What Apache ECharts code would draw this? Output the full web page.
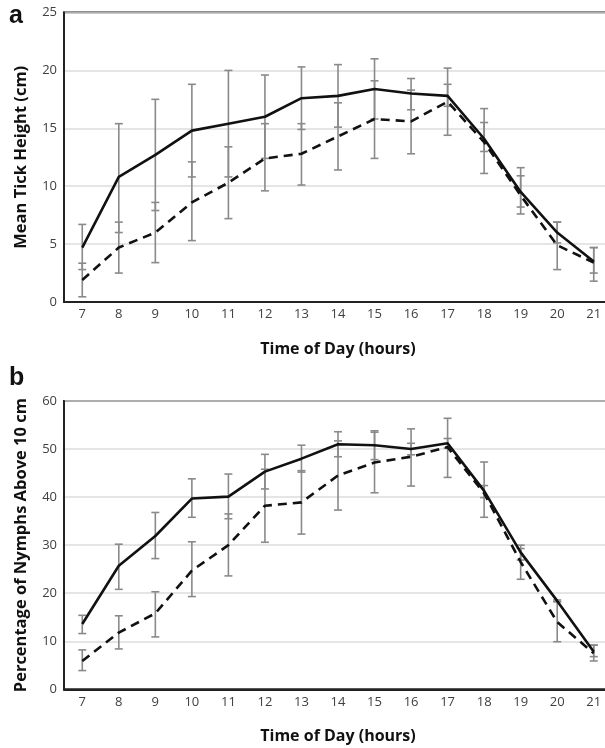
<!DOCTYPE html>
<html>
<head>
<meta charset="utf-8">
<title>Tick height by time of day</title>
<script src="https://cdn.jsdelivr.net/npm/echarts@6/dist/echarts.min.js"></script>
<style>
  html, body { margin: 0; padding: 0; background: #fff; }
  #main { width: 605px; height: 748px; }
</style>
</head>
<body>
<div id="main"></div>
<script type="text/javascript">
// hours on the x axis
var hours = ['7', '8', '9', '10', '11', '12', '13', '14', '15', '16', '17', '18', '19', '20', '21'];

// panel a - mean tick height (cm)
var heightSolid    = [4.7, 10.8, 12.7, 14.8, 15.4, 16.0, 17.6, 17.8, 18.4, 18.0, 17.8, 14.1, 9.5, 6.0, 3.5];
var heightSolidHi  = [6.7, 15.4, 17.5, 18.8, 20.0, 19.6, 20.3, 20.5, 21.0, 19.3, 18.8, 16.7, 11.6, 6.9, 4.7];
var heightSolidLo  = [2.8, 6.0, 7.9, 10.8, 10.8, 12.4, 14.9, 15.1, 15.8, 16.6, 16.9, 11.1, 7.6, 5.1, 2.5];
var heightDashed   = [1.9, 4.7, 6.0, 8.6, 10.3, 12.4, 12.8, 14.3, 15.8, 15.6, 17.3, 13.8, 9.2, 4.9, 3.4];
var heightDashedHi = [3.35, 6.9, 8.6, 12.1, 13.4, 15.4, 15.4, 17.2, 19.1, 18.3, 20.2, 15.5, 10.9, 6.9, 4.7];
var heightDashedLo = [0.45, 2.5, 3.4, 5.3, 7.2, 9.6, 10.1, 11.4, 12.4, 12.8, 14.4, 13.0, 8.2, 2.8, 1.8];

// panel b - percentage of nymphs above 10 cm
var pctSolid    = [13.6, 25.7, 31.9, 39.7, 40.1, 45.3, 48.0, 51.0, 50.8, 50.0, 51.2, 41.3, 28.5, 18.4, 7.8];
var pctSolidHi  = [15.4, 30.2, 36.8, 43.8, 44.8, 48.9, 50.8, 53.6, 53.8, 51.2, 52.2, 47.3, 30.0, 18.6, 9.2];
var pctSolidLo  = [11.6, 20.8, 27.2, 35.8, 35.5, 41.7, 45.2, 48.4, 47.8, 48.8, 50.2, 35.8, 26.9, 18.2, 6.8];
var pctDashed   = [5.9, 11.8, 15.8, 24.7, 30.0, 38.2, 38.9, 44.5, 47.2, 48.4, 50.4, 40.8, 26.5, 14.0, 7.5];
var pctDashedHi = [8.2, 15.3, 20.3, 30.7, 36.5, 45.8, 45.5, 51.7, 53.5, 54.2, 56.4, 42.4, 29.3, 18.3, 9.2];
var pctDashedLo = [3.9, 8.4, 10.9, 19.3, 23.6, 30.6, 32.3, 37.3, 40.9, 42.3, 44.1, 39.9, 22.9, 9.9, 5.9];

var FONT = '"Open Sans", "Liberation Sans", sans-serif';

function barData(lo, hi) {
    var out = [];
    for (var i = 0; i < hours.length; i++) {
        out.push([i, lo[i], hi[i]]);
    }
    return out;
}

// error bar with small caps
function renderBar(params, api) {
    var x = api.value(0);
    var lo = api.coord([x, api.value(1)]);
    var hi = api.coord([x, api.value(2)]);
    var w = 4;
    var st = { stroke: '#8a8a8a', lineWidth: 1.6 };
    return {
        type: 'group',
        children: [
            { type: 'line', shape: { x1: hi[0], y1: hi[1], x2: lo[0], y2: lo[1] }, style: st },
            { type: 'line', shape: { x1: hi[0] - w, y1: hi[1], x2: hi[0] + w, y2: hi[1] }, style: st },
            { type: 'line', shape: { x1: lo[0] - w, y1: lo[1], x2: lo[0] + w, y2: lo[1] }, style: st }
        ]
    };
}

function xAxisOf(idx) {
    return {
        type: 'category',
        gridIndex: idx,
        data: hours,
        name: 'Time of Day (hours)',
        nameLocation: 'middle',
        nameGap: 39,
        nameTextStyle: { fontFamily: FONT, fontWeight: 'bold', fontSize: 16, color: '#111' },
        axisLine: { lineStyle: { color: '#222', width: 2 } },
        axisTick: { show: false },
        axisLabel: { fontFamily: FONT, fontSize: 13, color: '#404040', margin: 6 }
    };
}

function yAxisOf(idx, max, interval, name) {
    return {
        type: 'value',
        gridIndex: idx,
        min: 0,
        max: max,
        interval: interval,
        name: name,
        nameLocation: 'middle',
        nameGap: 34,
        nameTextStyle: { fontFamily: FONT, fontWeight: 'bold', fontSize: 16.5, color: '#111' },
        axisLine: { show: true, lineStyle: { color: '#222', width: 2 } },
        axisTick: { show: false },
        axisLabel: { fontFamily: FONT, fontSize: 13, color: '#404040', margin: 7 },
        splitLine: { lineStyle: { color: '#dcdcdc', width: 1.5 } }
    };
}

function lineOf(idx, values, dashed) {
    return {
        type: 'line',
        xAxisIndex: idx,
        yAxisIndex: idx,
        data: values,
        symbol: 'none',
        z: 5,
        lineStyle: { color: '#111', width: 2.6, type: dashed ? [9, 6] : 'solid' }
    };
}

function barsOf(idx, lo, hi) {
    return {
        type: 'custom',
        xAxisIndex: idx,
        yAxisIndex: idx,
        renderItem: renderBar,
        encode: { x: 0, y: [1, 2] },
        data: barData(lo, hi),
        z: 3
    };
}

var myChart = echarts.init(document.getElementById('main'));

var option = {
    animation: false,
    backgroundColor: '#fff',
    graphic: [
        { type: 'text', left: 9, top: 4, style: { text: 'a', font: 'bold 25px "Liberation Sans", sans-serif', fill: '#111' } },
        { type: 'text', left: 9, top: 366, style: { text: 'b', font: 'bold 25px "Liberation Sans", sans-serif', fill: '#111' } }
    ],
    grid: [
        { left: 64, top: 12.5, width: 548, height: 289.5, show: true, borderColor: '#222', borderWidth: 2, outerBoundsMode: 'none' },
        { left: 64, top: 401, width: 548, height: 288.3, show: true, borderColor: '#222', borderWidth: 2, outerBoundsMode: 'none' }
    ],
    xAxis: [xAxisOf(0), xAxisOf(1)],
    yAxis: [
        yAxisOf(0, 25, 5, 'Mean Tick Height (cm)'),
        yAxisOf(1, 60, 10, 'Percentage of Nymphs Above 10 cm')
    ],
    series: [
        barsOf(0, heightSolidLo, heightSolidHi),
        barsOf(0, heightDashedLo, heightDashedHi),
        lineOf(0, heightSolid, false),
        lineOf(0, heightDashed, true),
        barsOf(1, pctSolidLo, pctSolidHi),
        barsOf(1, pctDashedLo, pctDashedHi),
        lineOf(1, pctSolid, false),
        lineOf(1, pctDashed, true)
    ]
};

myChart.setOption(option);
</script>
</body>
</html>
